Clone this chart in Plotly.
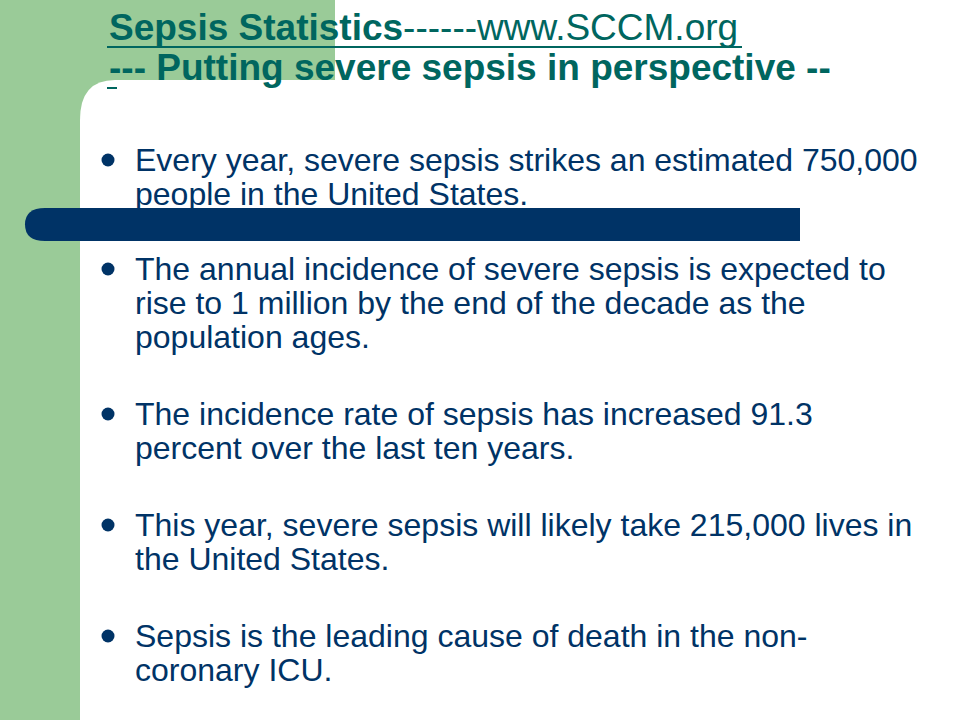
import plotly.graph_objects as go

# Slide text
title_bold = "Sepsis Statistics"
title_link = "------www.SCCM.org"
subtitle = "--- Putting severe sepsis in perspective --"

bullet_lines = [
    ["Every year, severe sepsis strikes an estimated 750,000",
     "people in the United States."],
    ["The annual incidence of severe sepsis is expected to",
     "rise to 1 million by the end of the decade as the",
     "population ages."],
    ["The incidence rate of sepsis has increased 91.3",
     "percent over the last ten years."],
    ["This year, severe sepsis will likely take 215,000 lives in",
     "the United States."],
    ["Sepsis is the leading cause of death in the non-",
     "coronary ICU."],
]

# layout positions (pixels, y downward)
bullet_top = [160, 269, 414, 525, 636]
line_gap = 34

GREEN = "#9ACB98"
TEAL = "#00665F"
NAVY = "#003366"

fig = go.Figure()

# bullet dots
fig.add_trace(go.Scatter(
    x=[108] * len(bullet_top), y=bullet_top, mode="markers",
    marker=dict(size=13, color=NAVY), hoverinfo="skip", showlegend=False
))

shapes = [
    # green background pieces
    dict(type="rect", x0=-20, x1=80, y0=-20, y1=740, fillcolor=GREEN, line_width=0, layer="below"),
    dict(type="rect", x0=-20, x1=335, y0=-20, y1=120, fillcolor=GREEN, line_width=0, layer="below"),
    # white rounded panel corner
    dict(type="path", path="M 80,120 Q 80,80 115,80 L 340,80 L 340,140 L 80,140 Z",
         fillcolor="white", line_width=0, layer="below"),
    # navy bar
    dict(type="path", path="M 800,208 L 45,208 Q 25,208 25,224.5 Q 25,241 45,241 L 800,241 Z",
         fillcolor=NAVY, line_width=0, layer="below"),
    # title underlines
    dict(type="line", x0=107, x1=742, y0=47, y1=47, line=dict(color=TEAL, width=2)),
    dict(type="line", x0=107, x1=117, y0=88, y1=88, line=dict(color=TEAL, width=2)),
]

annotations = [
    dict(x=107, y=27, text="<b>" + title_bold + "</b>" + title_link,
         font=dict(size=37, color=TEAL)),
    dict(x=107, y=67, text="<b>" + subtitle + "</b>",
         font=dict(size=37, color=TEAL)),
]
for top, lines in zip(bullet_top, bullet_lines):
    for i, line in enumerate(lines):
        annotations.append(dict(x=133, y=top + i * line_gap, text=line,
                                font=dict(size=32, color=NAVY)))

for a in annotations:
    a.update(xref="x", yref="y", xanchor="left", yanchor="middle", showarrow=False)

fig.update_layout(
    width=960, height=720,
    margin=dict(l=0, r=0, t=0, b=0),
    paper_bgcolor="white", plot_bgcolor="white",
    font=dict(family="Liberation Sans, Arial, sans-serif"),
    xaxis=dict(range=[0, 960], visible=False, fixedrange=True),
    yaxis=dict(range=[720, 0], visible=False, fixedrange=True),
    shapes=shapes, annotations=annotations,
)

fig.write_html("out.html", config={"displayModeBar": False},
               post_script="document.body.style.margin='0';document.body.style.overflow='hidden';")
